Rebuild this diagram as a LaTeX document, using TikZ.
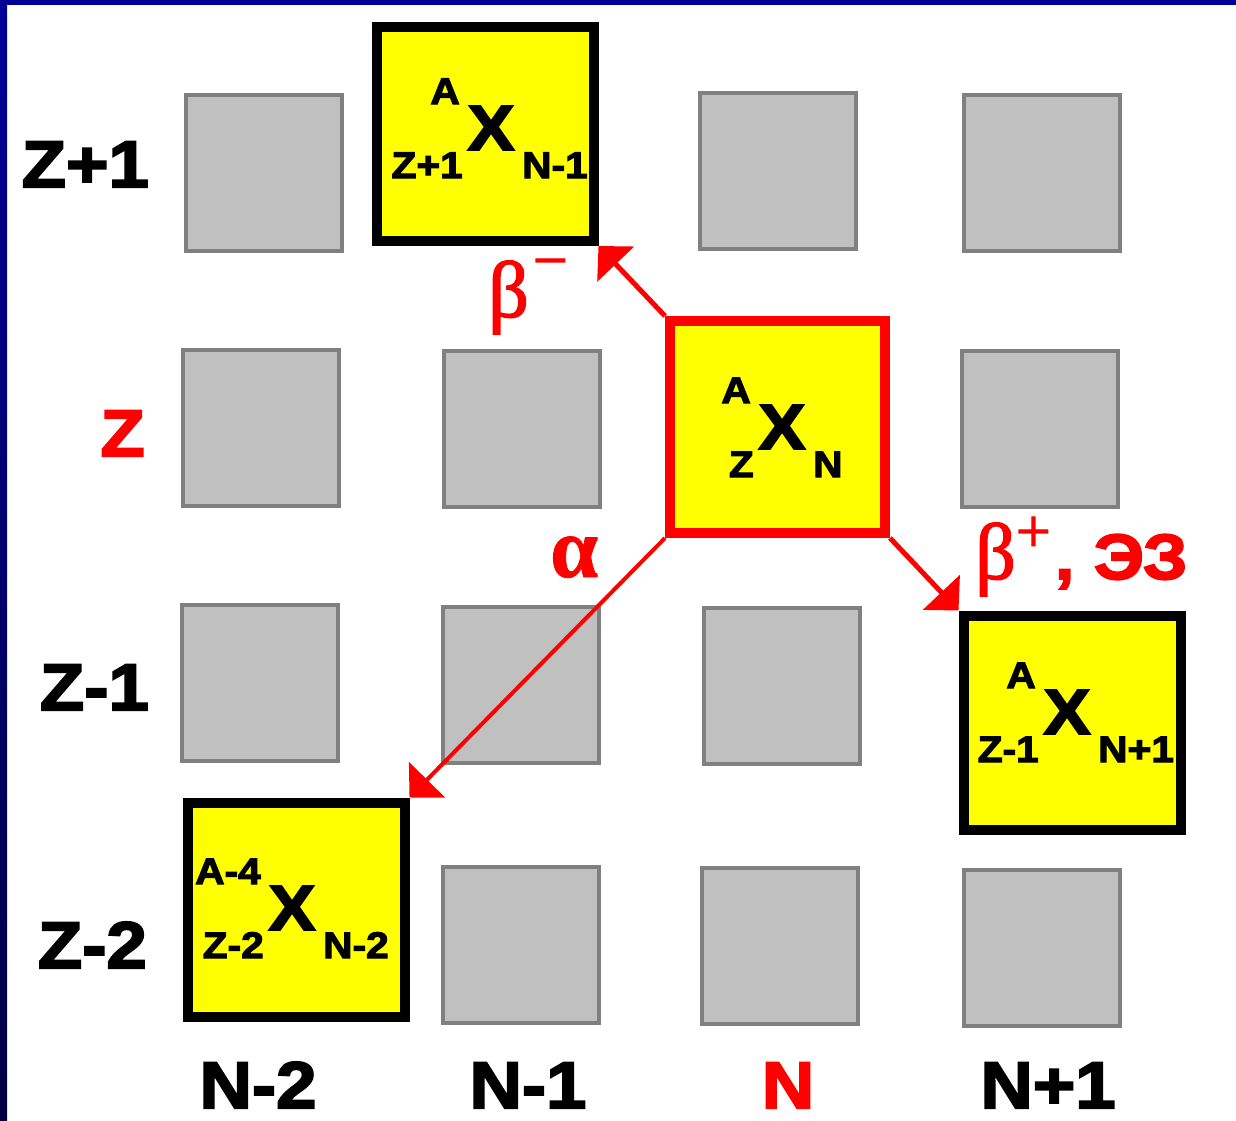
\documentclass[tikz,border=0pt]{standalone}
\usepackage{fontspec}
\usetikzlibrary{arrows.meta}
\newfontfamily\blk[FakeBold=3,FakeStretch=1.1]{Liberation Sans Bold}
\newfontfamily\grk[FakeBold=1.8]{Liberation Serif}
\newfontfamily\grkb[FakeBold=1]{Liberation Serif Bold}
\definecolor{frame}{HTML}{000099}
\definecolor{framedark}{HTML}{000044}
\definecolor{cellfill}{HTML}{C0C0C0}
\definecolor{celldraw}{HTML}{808080}
\definecolor{hot}{HTML}{FF0000}
\definecolor{nucfill}{HTML}{FFFF00}
\newcommand{\nucl}[6]{%
  \node[xglyph, anchor=base] (#1x) at (#2,#3+23) {X};
  \node[nsub, anchor=base east] (#1a) at (#2-31,#3-23) {#4};
  \node[nsub, anchor=base east] (#1z) at (#2-28,#3+51) {#5};
  \node[nsub, anchor=base west] (#1n) at (#2+31,#3+51) {#6};
}
\begin{document}
\begin{tikzpicture}[x=1pt,y=-1pt,
  cell/.style={draw=celldraw, fill=cellfill, line width=4pt, minimum width=156pt, minimum height=156pt, inner sep=0pt},
  nucbox/.style={draw=black, fill=nucfill, line width=10pt, minimum width=217pt, minimum height=214pt, inner sep=0pt},
  parentbox/.style={nucbox, draw=hot},
  axislabel/.style={font=\blk\fontsize{66}{66}\selectfont, inner sep=0pt},
  xglyph/.style={font=\blk\fontsize{64}{64}\selectfont, inner sep=0pt},
  nsub/.style={font=\blk\fontsize{37}{37}\selectfont, inner sep=0pt},
  greek/.style={font=\grk\fontsize{80}{80}\selectfont, text=hot, inner sep=0pt},
  decay/.style={draw=hot, line width=5pt, -{Triangle[length=25pt,width=50pt]}}]
\useasboundingbox (0,0) rectangle (1236,1120);
\fill[white] (0,0) rectangle (1236,1120);
\fill[frame] (0,0) rectangle (1236,5);
\shade[top color=frame, bottom color=framedark] (0,0) rectangle (7,1120);

% grey cells
\node[cell] (g11) at (264,173) {};
\node[cell] (g13) at (777.5,171) {};
\node[cell] (g14) at (1042,173) {};
\node[cell] (g21) at (261,428) {};
\node[cell] (g22) at (522,428.5) {};
\node[cell] (g24) at (1039.5,428.5) {};
\node[cell] (g31) at (259.5,682.5) {};
\node[cell] (g32) at (520.5,685) {};
\node[cell] (g33) at (782,685.5) {};
\node[cell] (g42) at (521,945) {};
\node[cell] (g43) at (779.5,945.5) {};
\node[cell] (g44) at (1041.5,947.5) {};

% nuclide boxes
\node[nucbox] (n1) at (485,134) {};
\node[parentbox, minimum width=215pt, minimum height=212pt] (p) at (777.5,427) {};
\node[nucbox] (n3) at (1072,722.5) {};
\node[nucbox] (n4) at (296,909.5) {};

% decay arrows
\draw[decay] (p.north west) -- (n1.south east);
\draw[decay] (p.south east) -- (n3.north west);
\draw[decay, line width=4pt] (p.south west) -- (n4.north east);

% nuclide symbols
\nucl{s1}{491}{127}{A}{Z+1}{N-1}
\nucl{sp}{782}{426}{A}{Z}{N}
\nucl{s3}{1067}{711}{A}{Z-1}{N+1}
\nucl{s4}{292}{907}{A-4}{Z-2}{N-2}

% decay labels
\node[greek, anchor=base west] (lbm) at (488,317) {β\hspace{4pt}\raisebox{36pt}{\fontsize{62}{62}\selectfont −}};
\node[greek, anchor=base west, font=\grkb\fontsize{86}{86}\selectfont] (la) at (550,577) {α};
\node[greek, anchor=base west] (lbp) at (975,579) {β\raisebox{27pt}{\fontsize{62}{62}\selectfont +}\hspace{4pt}{\blk\fontsize{64}{64}\selectfont , ЭЗ}};

% axis labels
\node[axislabel, anchor=base east] (rz1) at (149,187) {Z+1};
\node[axislabel, anchor=base east, text=hot] (rz0) at (145,456) {Z};
\node[axislabel, anchor=base east] (rzm1) at (149,710) {Z-1};
\node[axislabel, anchor=base east] (rzm2) at (147,968) {Z-2};
\node[axislabel, anchor=base] (cn2) at (258,1108) {N-2};
\node[axislabel, anchor=base] (cn1) at (528,1108) {N-1};
\node[axislabel, anchor=base, text=hot] (cn0) at (788,1108) {N};
\node[axislabel, anchor=base] (cnp1) at (1048,1108) {N+1};
\end{tikzpicture}
\end{document}
